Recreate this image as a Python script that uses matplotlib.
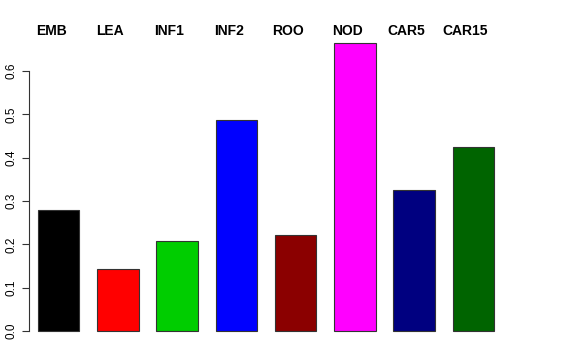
import numpy as np
import matplotlib
matplotlib.use("Agg")
import matplotlib.pyplot as plt

# data
labels = ["EMB", "LEA", "INF1", "INF2", "ROO", "NOD", "CAR5", "CAR15"]
values = [0.279, 0.144, 0.208, 0.487, 0.222, 0.665, 0.325, 0.425]
colors = ["#000000", "#FF0000", "#00CD00", "#0000FF",
          "#8B0000", "#FF00FF", "#000080", "#006400"]
yticks = [0.0, 0.1, 0.2, 0.3, 0.4, 0.5, 0.6]

plt.rcParams["font.family"] = ["Liberation Sans", "DejaVu Sans"]

W, H = 576, 360
fig = plt.figure(figsize=(W / 100, H / 100), dpi=100)

# axes placed in pixel terms: left 29, right 503, top 30, bottom 345
left, right, top, bottom = 29, 503, 30, 345
ax = fig.add_axes([left / W, 1 - bottom / H, (right - left) / W, (bottom - top) / H])

x = np.arange(len(labels))
width = 0.7
ax.bar(x, values, width=width, color=colors, edgecolor="#333333", linewidth=0.8)

ax.set_xlim(-0.35 - 0.152, len(labels) - 1 + 0.35 + 0.152)
ax.set_ylim(-0.0323, 0.6947)

for s in ["top", "right", "bottom"]:
    ax.spines[s].set_visible(False)
ax.spines["left"].set_bounds(0, 0.6)
ax.spines["left"].set_linewidth(0.8)
ax.spines["left"].set_color("#333333")

ax.set_xticks([])
ax.set_yticks(yticks)
ax.set_yticklabels([f"{t:.1f}" for t in yticks], rotation=90, va="center", fontsize=8.5)
ax.tick_params(axis="y", length=5, width=0.8, color="#333333", pad=3)

for xi, lab in zip(x, labels):
    ax.text(xi - 0.13, 0.692, lab, ha="center", va="center",
            fontsize=10, fontweight="bold", transform=ax.transData)

fig.savefig("out.png", dpi=100)
